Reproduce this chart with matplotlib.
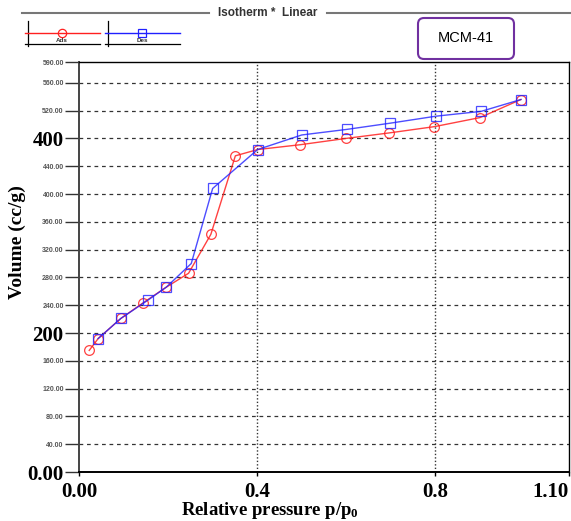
#!/usr/bin/env python3
"""N2 sorption isotherm of MCM-41 (adsorption / desorption)."""

import matplotlib
matplotlib.use("Agg")
import matplotlib.pyplot as plt
from matplotlib.lines import Line2D
from matplotlib.patches import FancyBboxPatch

plt.rcParams["mathtext.fontset"] = "custom"
plt.rcParams["mathtext.rm"] = "Liberation Serif:bold"
plt.rcParams["mathtext.it"] = "Liberation Serif:bold"
plt.rcParams["mathtext.bf"] = "Liberation Serif:bold"

# --- data ---
ads_x = [0.023, 0.043, 0.094, 0.143, 0.196, 0.246, 0.296, 0.351, 0.401,
         0.497, 0.599, 0.697, 0.798, 0.900, 0.992]
ads_y = [175, 192, 221, 243, 266, 286, 342, 455, 464,
         471, 480, 488, 497, 510, 536]
des_x = [0.043, 0.094, 0.154, 0.196, 0.252, 0.300, 0.401,
         0.500, 0.601, 0.699, 0.801, 0.903, 0.992]
des_y = [192, 221, 247, 266, 300, 408, 464,
         485, 493, 502, 512, 519, 536]

y_ticks = [0, 40, 80, 120, 160, 200, 240, 280, 320, 360, 400, 440, 480, 520, 560, 590]
y_labels = ["0.00", "40.00", "80.00", "120.00", "160.00", "200", "240.00", "280.00",
            "320.00", "360.00", "400.00", "440.00", "400", "520.00", "560.00", "590.00"]
big_y = {"0.00", "200", "400"}
x_ticks = [0.0, 0.4, 0.8, 1.1]
x_labels = ["0.00", "0.4", "0.8", "1.10"]

W, H = 571, 521
fig = plt.figure(figsize=(W / 100, H / 100), dpi=100)
ax = fig.add_axes([79 / W, (H - 472) / H, (569 - 79) / W, (472 - 62) / H])

ax.plot(ads_x, ads_y, color="#ff2020", lw=1.0, marker="o", ms=7, mfc="none",
        mew=0.9, alpha=0.85, zorder=3)
ax.plot(des_x, des_y, color="#2020ff", lw=1.0, marker="s", ms=7, mfc="none",
        mew=0.9, alpha=0.8, zorder=3)

ax.set_xlim(0, 1.1)
ax.set_ylim(0, 590)

ax.set_yticks(y_ticks)
ax.set_yticklabels(y_labels)
for t in ax.get_yticklabels():
    if t.get_text() in big_y:
        t.set_fontfamily("Liberation Serif")
        t.set_fontweight("bold")
        t.set_fontsize(15)
        t.set_color("black")
    else:
        t.set_fontfamily("Liberation Sans")
        t.set_fontweight("bold")
        t.set_fontsize(5)
        t.set_color("#555555")
ax.tick_params(axis="y", direction="out", length=10, width=1, pad=1, color="#333333")

ax.set_xticks(x_ticks)
ax.set_xticklabels(x_labels, fontfamily="Liberation Serif", fontweight="bold", fontsize=15)
ax.get_xticklabels()[-1].set_ha("right")
ax.tick_params(axis="x", direction="out", length=3, width=1, pad=4)

for y in y_ticks[1:-1]:
    ax.axhline(y, color="#333333", lw=0.9, ls=(0, (3, 3)), zorder=1)
for x in (0.4, 0.8):
    ax.axvline(x, color="#333333", lw=1.0, ls=(0, (1, 1.5)), zorder=1)

for side in ("left", "bottom"):
    ax.spines[side].set_linewidth(1.4)
ax.spines["left"].set_color("#444444")
for side in ("top", "right"):
    ax.spines[side].set_linewidth(1.0)

ax.set_ylabel("Volume (cc/g)", fontfamily="Liberation Serif", fontweight="bold", fontsize=14)
ax.yaxis.set_label_coords(-0.108, 0.56)
ax.set_xlabel("Relative pressure p/p$_0$", fontfamily="Liberation Serif",
              fontweight="bold", fontsize=13.5)
ax.xaxis.set_label_coords(0.39, -0.068)

# --- header: title line, legend boxes, sample tag (pixel overlay) ---
ov = fig.add_axes([0, 0, 1, 1], zorder=5)
ov.set_xlim(0, W)
ov.set_ylim(H, 0)
ov.axis("off")

ov.add_line(Line2D([22, 209], [13, 13], color="#777777", lw=1.5))
ov.add_line(Line2D([327, 571], [13, 13], color="#777777", lw=1.5))
ov.text(268, 13, "Isotherm *  Linear", ha="center", va="center", fontsize=8.5,
        fontweight="bold", color="#333333", fontfamily="Liberation Sans")

for x0, col, mk, lab in ((25, "#ff2020", "o", "Ads"), (105, "#2020ff", "s", "Des")):
    ov.add_line(Line2D([x0 + 3, x0 + 3], [21, 46], color="black", lw=0.9))
    ov.add_line(Line2D([x0, x0 + 75], [44, 44], color="black", lw=0.9))
    ov.add_line(Line2D([x0, x0 + 75], [33, 33], color=col, lw=1.0))
    ov.plot([x0 + 37], [33], marker=mk, ms=6, mfc="none", mec=col, mew=0.9)
    ov.text(x0 + 37, 41, lab, ha="center", va="center", fontsize=4.5,
            fontweight="bold", color="#333333", fontfamily="Liberation Sans")

ov.add_patch(FancyBboxPatch((418, 18), 96, 41, boxstyle="round,pad=0,rounding_size=6",
                            fc="white", ec="#7030a0", lw=1.5))
ov.text(466, 38.5, "MCM-41", ha="center", va="center", fontsize=10.5,
        fontfamily="Liberation Sans", color="black")

fig.savefig("out.png", dpi=100)
